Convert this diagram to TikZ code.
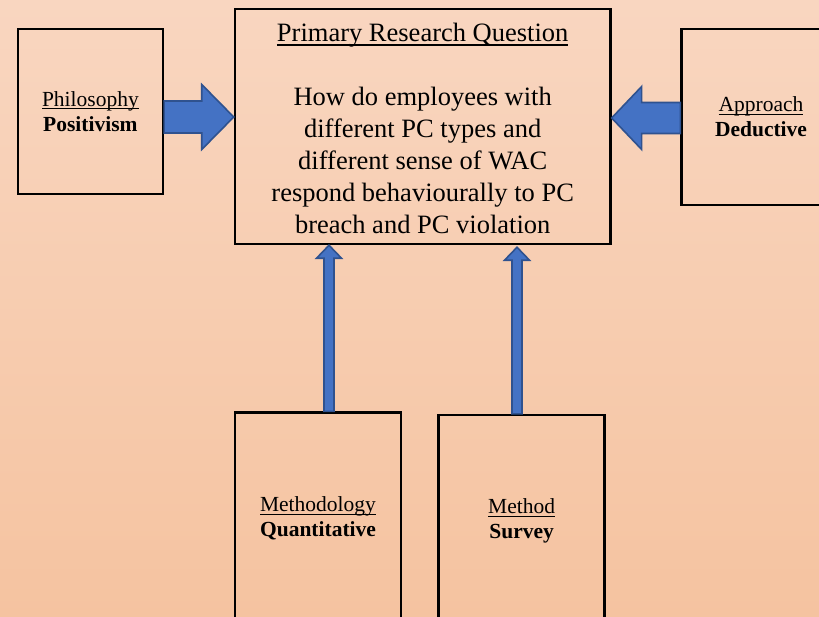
\documentclass[tikz,border=0pt]{standalone}
\usepackage{fontspec}
\setmainfont{Liberation Serif}
\usetikzlibrary{calc}
\definecolor{bgtop}{RGB}{249,214,192}
\definecolor{bgbot}{RGB}{245,195,160}
\definecolor{arrowfill}{RGB}{68,114,196}
\definecolor{arrowline}{RGB}{47,82,143}
\newcommand\wul[1]{\setbox0\hbox{#1}\rlap{\rule[-0.15em]{\wd0}{0.05em}}\box0}
\begin{document}
\begin{tikzpicture}[x=1pt,y=-1pt,
  box/.style={draw=black, line width=2.4pt, align=center, inner sep=0pt},
  lbltext/.style={font=\fontsize{21.5}{25}\selectfont},
  bodytext/.style={font=\fontsize{26.5}{32}\selectfont, align=center, inner sep=0pt},
  blockarrow/.style={fill=arrowfill, draw=arrowline, line width=1.6pt, line join=miter}]
\useasboundingbox (0,0) rectangle (819,617);
\clip (0,0) rectangle (819,617);
\shade[top color=bgtop, bottom color=bgbot] (0,0) rectangle (819,617);

\node[box, minimum width=375.5pt, minimum height=235.3pt] (prq) at (422.7,126.4) {};
\node[bodytext] (prqtext) at ($(prq.center)+(0,2.2)$)
  {\wul{Primary Research Question}\\\mbox{}\\How do employees with\\different PC types and\\different sense of WAC\\respond behaviourally to PC\\breach and PC violation};
\node[box, lbltext, minimum width=145pt, minimum height=165pt] (phil) at (90.4,111.4)
  {\wul{Philosophy}\\\textbf{Positivism}};
\node[box, lbltext, minimum width=159pt, minimum height=176.3pt] (app) at (761,116.9)
  {\wul{Approach}\\\textbf{Deductive}};
\node[box, lbltext, minimum width=166pt, minimum height=212pt] (meth) at (318,518.5)
  {\wul{Methodology}\\\textbf{Quantitative}};
\node[box, lbltext, minimum width=166pt, minimum height=211.6pt] (mthd) at (521.6,520.8)
  {\wul{Method}\\\textbf{Survey}};

% left block arrow
\coordinate (la1) at (phil.east |- 0,117);
\coordinate (la2) at (prq.west |- 0,117);
\filldraw[blockarrow] ($(la1)+(0,-16)$) -- ($(la2)+(-32,-16)$) -- ($(la2)+(-32,-32.5)$) -- (la2)
  -- ($(la2)+(-32,32.5)$) -- ($(la2)+(-32,16)$) -- ($(la1)+(0,16)$) -- cycle;
% right block arrow
\coordinate (ra1) at (app.west |- 0,118);
\coordinate (ra2) at (prq.east |- 0,118);
\filldraw[blockarrow] ($(ra1)+(0,-15.5)$) -- ($(ra2)+(30,-15.5)$) -- ($(ra2)+(30,-31.5)$) -- (ra2)
  -- ($(ra2)+(30,31.5)$) -- ($(ra2)+(30,15.5)$) -- ($(ra1)+(0,15.5)$) -- cycle;
% up arrow 1
\coordinate (ua1) at (meth.north -| 329,0);
\coordinate (ua2) at (prq.south -| 329,0);
\filldraw[blockarrow] ($(ua1)+(-5,0)$) -- ($(ua2)+(-5,13)$) -- ($(ua2)+(-12.5,13)$) -- (ua2)
  -- ($(ua2)+(12.5,13)$) -- ($(ua2)+(5,13)$) -- ($(ua1)+(5,0)$) -- cycle;
% up arrow 2
\coordinate (ub1) at (mthd.north -| 517,0);
\coordinate (ub2) at ($(prq.south -| 517,0)+(0,2)$);
\filldraw[blockarrow] ($(ub1)+(-5,0)$) -- ($(ub2)+(-5,13)$) -- ($(ub2)+(-12.5,13)$) -- (ub2)
  -- ($(ub2)+(12.5,13)$) -- ($(ub2)+(5,13)$) -- ($(ub1)+(5,0)$) -- cycle;
\end{tikzpicture}
\end{document}
